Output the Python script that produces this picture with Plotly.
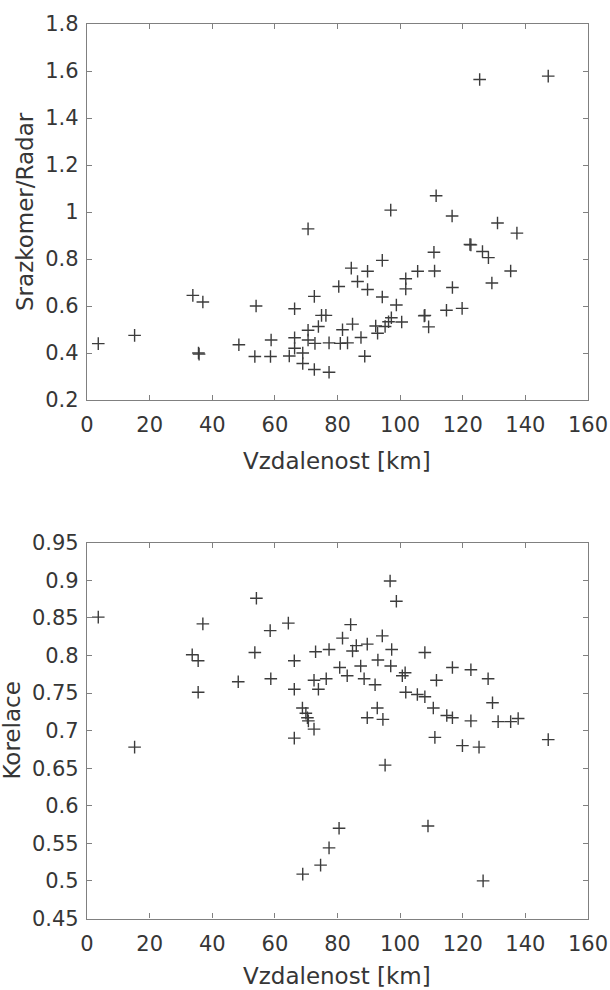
import plotly.graph_objects as go

# --- Data -----------------------------------------------------------------
# Distance of each gauge from the radar [km] and gauge/radar ratio
distance_ratio = [3.6, 15.2, 33.8, 37.0, 35.6, 35.8, 48.5, 54.0, 53.6, 58.8,
                  58.6, 64.6, 66.3, 66.3, 66.3, 68.9, 68.9, 70.6, 70.6, 70.6,
                  72.6, 72.8, 72.6, 73.9, 74.9, 76.3, 77.3, 77.3, 80.4, 80.9,
                  81.6, 83.2, 84.4, 84.8, 86.4, 87.5, 88.7, 89.6, 89.6, 92.2,
                  92.8, 94.3, 94.3, 95.2, 96.3, 97.0, 97.2, 98.8, 100.5, 101.8,
                  101.8, 105.6, 107.7, 107.9, 109.1, 110.8, 111.0, 111.5, 114.8, 116.6,
                  116.7, 119.8, 122.3, 122.6, 125.4, 126.3, 128.2, 129.3, 131.1, 135.3,
                  137.3, 147.3]
ratio = [0.44, 0.475, 0.645, 0.617, 0.40, 0.395, 0.435, 0.60, 0.385, 0.455,
         0.385, 0.387, 0.588, 0.465, 0.42, 0.40, 0.355, 0.928, 0.497, 0.455,
         0.641, 0.441, 0.33, 0.513, 0.560, 0.560, 0.443, 0.318, 0.683, 0.441,
         0.499, 0.443, 0.761, 0.523, 0.704, 0.466, 0.386, 0.748, 0.670, 0.515,
         0.484, 0.794, 0.638, 0.513, 0.533, 1.008, 0.550, 0.604, 0.532, 0.716,
         0.673, 0.748, 0.558, 0.560, 0.511, 0.829, 0.749, 1.069, 0.582, 0.983,
         0.679, 0.590, 0.862, 0.860, 1.564, 0.832, 0.806, 0.698, 0.953, 0.749,
         0.910, 1.578]

# Distance [km] and correlation between gauge and radar
distance_corr = [3.6, 15.2, 33.6, 35.5, 35.5, 37.0, 48.3, 54.1, 53.6, 58.5,
                 58.7, 64.3, 66.2, 66.2, 66.2, 68.8, 69.9, 70.4, 70.7, 72.5,
                 73.0, 72.5, 73.9, 76.4, 77.3, 68.9, 74.6, 77.3, 80.5, 80.7,
                 81.6, 83.1, 84.2, 84.8, 86.0, 87.4, 88.5, 89.5, 89.5, 92.0,
                 92.7, 92.9, 94.3, 94.5, 95.2, 96.8, 97.0, 97.3, 98.8, 100.7,
                 101.6, 101.8, 105.5, 107.9, 107.9, 108.9, 110.6, 111.1, 111.6, 114.9,
                 116.7, 116.7, 119.9, 122.6, 122.6, 125.2, 126.5, 128.1, 129.5, 131.3,
                 135.3, 137.7, 147.3]
correlation = [0.851, 0.678, 0.801, 0.793, 0.751, 0.842, 0.765, 0.876, 0.804, 0.833,
               0.769, 0.843, 0.793, 0.755, 0.690, 0.730, 0.723, 0.717, 0.713, 0.702,
               0.805, 0.767, 0.755, 0.769, 0.808, 0.509, 0.521, 0.544, 0.570, 0.784,
               0.823, 0.773, 0.841, 0.806, 0.813, 0.786, 0.769, 0.815, 0.717, 0.761,
               0.730, 0.794, 0.826, 0.715, 0.654, 0.899, 0.786, 0.808, 0.872, 0.773,
               0.777, 0.751, 0.748, 0.745, 0.804, 0.573, 0.730, 0.691, 0.767, 0.720,
               0.717, 0.784, 0.680, 0.781, 0.713, 0.678, 0.500, 0.769, 0.737, 0.712,
               0.712, 0.716, 0.688]

# Tick values / labels
x_ticks = [0, 20, 40, 60, 80, 100, 120, 140, 160]
ratio_ticks = [0.2, 0.4, 0.6, 0.8, 1.0, 1.2, 1.4, 1.6, 1.8]
ratio_labels = ["0.2", "0.4", "0.6", "0.8", "1", "1.2", "1.4", "1.6", "1.8"]
corr_ticks = [0.45, 0.5, 0.55, 0.6, 0.65, 0.7, 0.75, 0.8, 0.85, 0.9, 0.95]
corr_labels = ["0.45", "0.5", "0.55", "0.6", "0.65", "0.7", "0.75", "0.8",
               "0.85", "0.9", "0.95"]

x_title = "Vzdalenost [km]"
ratio_title = "Srazkomer/Radar"
corr_title = "Korelace"

# --- Figure ---------------------------------------------------------------
W, H = 610, 990
FONT = "DejaVu Sans"
TEXT = "#363636"
FRAME = "#808080"

marker = dict(symbol="cross-thin", size=9, color="#3c3c3c",
              line=dict(width=1.4, color="#3c3c3c"))

fig = go.Figure()
fig.add_trace(go.Scatter(x=distance_ratio, y=ratio, mode="markers",
                         marker=marker, xaxis="x", yaxis="y", showlegend=False))
fig.add_trace(go.Scatter(x=distance_corr, y=correlation, mode="markers",
                         marker=marker, xaxis="x2", yaxis="y2", showlegend=False))


def px_x(p):
    return p / W


def px_y(p):
    return 1 - p / H


axis_common = dict(showline=True, linecolor=FRAME, linewidth=1.3, mirror="ticks",
                   ticks="inside", ticklen=5, tickwidth=1, tickcolor=FRAME,
                   showgrid=False, zeroline=False, automargin=False,
                   tickfont=dict(family=FONT, size=21, color=TEXT))

x_dom = [px_x(87), px_x(588)]

fig.update_layout(
    width=W, height=H,
    margin=dict(l=0, r=0, t=0, b=0),
    paper_bgcolor="white", plot_bgcolor="white",
    xaxis=dict(domain=x_dom, range=[0, 160], tickvals=x_ticks,
               anchor="y", ticklabelstandoff=6, **axis_common),
    yaxis=dict(domain=[px_y(400), px_y(24)], range=[0.2, 1.8],
               tickvals=ratio_ticks, ticktext=ratio_labels,
               anchor="x", ticklabelstandoff=3, **axis_common),
    xaxis2=dict(domain=x_dom, range=[0, 160], tickvals=x_ticks,
                anchor="y2", ticklabelstandoff=6, **axis_common),
    yaxis2=dict(domain=[px_y(918.5), px_y(542.7)], range=[0.45, 0.95],
                tickvals=corr_ticks, ticktext=corr_labels,
                anchor="x2", ticklabelstandoff=3, **axis_common),
)

title_font = dict(family=FONT, size=23, color=TEXT)
annotations = [
    dict(text=x_title, x=px_x(337), y=px_y(461)),
    dict(text=x_title, x=px_x(337), y=px_y(976)),
    dict(text=ratio_title, x=px_x(25), y=px_y(212), textangle=-90),
    dict(text=corr_title, x=px_x(12), y=px_y(730.6), textangle=-90),
]
for a in annotations:
    fig.add_annotation(xref="paper", yref="paper", showarrow=False,
                       xanchor="center", yanchor="middle", font=title_font, **a)

fig.write_html("out.html")
